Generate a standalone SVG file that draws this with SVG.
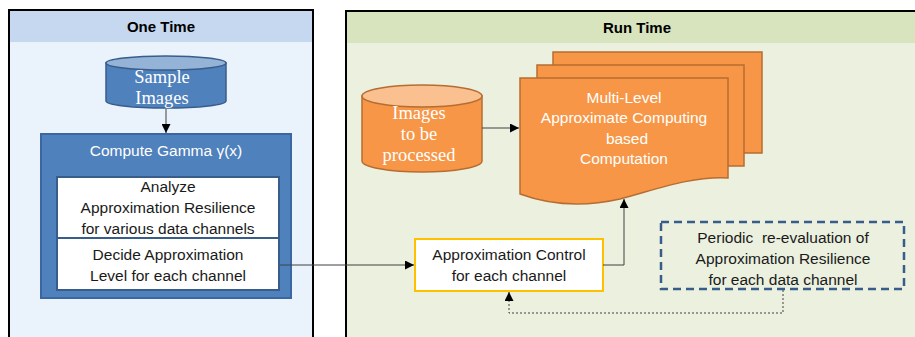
<svg xmlns="http://www.w3.org/2000/svg" width="915" height="337" viewBox="0 0 915 337">
<defs>
<marker id="arr" viewBox="0 0 10 10" refX="10" refY="5" markerWidth="9" markerHeight="9" markerUnits="userSpaceOnUse" orient="auto">
<path d="M0,0 L10,5 L0,10 Z" fill="#000"/>
</marker>
</defs>
<style>
.t{font-family:"Liberation Sans",Arial,sans-serif;font-size:15.5px;fill:#1a1a1a;text-anchor:middle}
.w{fill:#fff}
.s{font-family:"Liberation Serif","Times New Roman",serif;font-size:18.5px;fill:#fff;text-anchor:middle}
.h{font-family:"Liberation Sans",Arial,sans-serif;font-size:15px;font-weight:bold;fill:#000;text-anchor:middle}
.ln{fill:none;stroke:#404040;stroke-width:1}
.pre{white-space:pre}
</style>
<rect width="915" height="337" fill="#fff"/>
<g id="panel-onetime">
<rect x="9" y="10" width="304" height="340" fill="#eaf3fc" stroke="#000" stroke-width="2"/>
<rect x="10" y="11" width="302" height="31" fill="#c6d8ef"/>
<text class="h" x="161" y="32">One Time</text>
</g>
<g id="panel-runtime">
<rect x="346" y="11" width="600" height="340" fill="#ebf0df" stroke="#000" stroke-width="2"/>
<rect x="347" y="12" width="600" height="31" fill="#d7e4bd"/>
<text class="h" x="637" y="33">Run Time</text>
</g>
<g id="sample-images">
<path d="M106,63 V101 A60,7 0 0 0 226,101 V63 Z" fill="#4f81bd" stroke="#385d8a" stroke-width="1.5"/>
<ellipse cx="166" cy="63" rx="60" ry="7" fill="#95b3d7" stroke="#385d8a" stroke-width="1.5"/>
<text class="s" x="162" y="83">Sample</text>
<text class="s" x="162" y="104">Images</text>
</g>
<g id="compute-gamma">
<rect x="41" y="134" width="250" height="164" fill="#4f81bd" stroke="#3a679f" stroke-width="2"/>
<text class="t w" x="166" y="156">Compute Gamma γ(x)</text>
</g>
<g id="analyze">
<rect x="57" y="177" width="222" height="61" fill="#fff" stroke="#385d8a" stroke-width="2"/>
<text class="t" x="168" y="192">Analyze</text>
<text class="t" x="168" y="213">Approximation Resilience</text>
<text class="t" x="168" y="234">for various data channels</text>
</g>
<g id="decide">
<rect x="57" y="238" width="222" height="52" fill="#fff" stroke="#385d8a" stroke-width="2"/>
<text class="t" x="168" y="260">Decide Approximation</text>
<text class="t" x="168" y="281">Level for each channel</text>
</g>
<g id="images-processed">
<path d="M362,96 V161 A60,11 0 0 0 482,161 V96 Z" fill="#f79646" stroke="#b66d31" stroke-width="1.5"/>
<ellipse cx="422" cy="96" rx="60" ry="11" fill="#fac090" stroke="#b66d31" stroke-width="1.5"/>
<text class="s" x="419" y="119">Images</text>
<text class="s" x="419" y="140">to be</text>
<text class="s" x="419" y="161">processed</text>
</g>
<g id="multi-level">
<path d="M553,52 H762 V153 H553 Z" fill="#f79646" stroke="#b66d31" stroke-width="1.5"/>
<path d="M537,65 H744 V166 H537 Z" fill="#f79646" stroke="#b66d31" stroke-width="1.5"/>
<path d="M520,78 H728 V178 C690,176 655,190 620,199 C585,207 550,205 520,194 Z" fill="#f79646" stroke="#b66d31" stroke-width="1.5"/>
<text class="t w" x="624" y="103">Multi-Level</text>
<text class="t w" x="624" y="123">Approximate Computing</text>
<text class="t w" x="627" y="144">based</text>
<text class="t w" x="624" y="164">Computation</text>
</g>
<g id="approx-control">
<rect x="415" y="239" width="188" height="52" fill="#fff" stroke="#ffc000" stroke-width="2"/>
<text class="t" x="509" y="260">Approximation Control</text>
<text class="t" x="509" y="281">for each channel</text>
</g>
<g id="periodic">
<rect x="661" y="222" width="243" height="67" fill="none" stroke="#385d8a" stroke-width="2.5" stroke-dasharray="8,5"/>
<text class="t pre" x="783" y="243" xml:space="preserve">Periodic  re-evaluation of</text>
<text class="t" x="783" y="264">Approximation Resilience</text>
<text class="t" x="783" y="285">for each data channel</text>
</g>
<g id="connectors">
<line class="ln" x1="166" y1="109" x2="166" y2="133" marker-end="url(#arr)"/>
<line class="ln" x1="280" y1="265" x2="414" y2="265" marker-end="url(#arr)"/>
<line class="ln" x1="482" y1="128" x2="519" y2="128" marker-end="url(#arr)"/>
<polyline class="ln" points="603,265 624,265 624,199" marker-end="url(#arr)"/>
<polyline class="ln" points="783,290 783,313 509,313 509,292" stroke-dasharray="2,2" stroke="#666" marker-end="url(#arr)"/>
</g>
</svg>
